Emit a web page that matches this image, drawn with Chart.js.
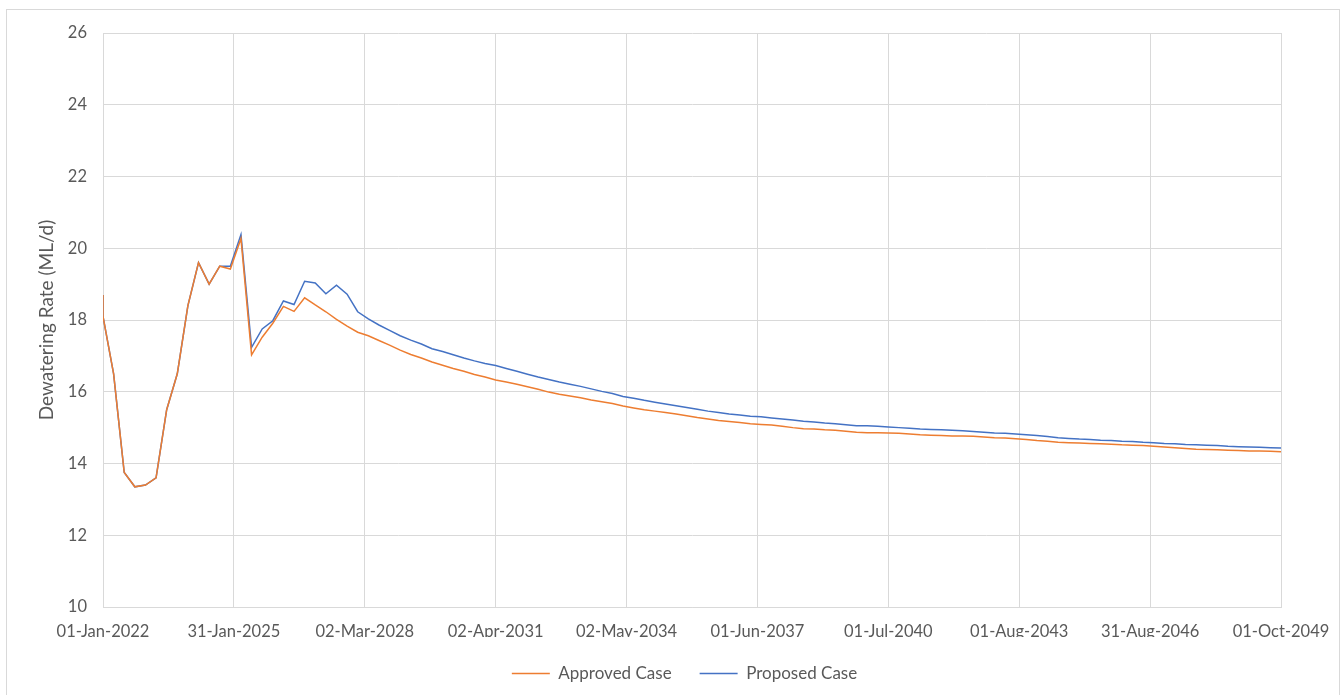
<!DOCTYPE html>
<html>
<head>
<meta charset="utf-8">
<title>Dewatering Rate</title>
<script src="https://cdn.jsdelivr.net/npm/chart.js@4.4.1/dist/chart.umd.min.js"></script>
<style>
    html, body { margin: 0; padding: 0; background: #fff; }
    #wrap { position: relative; width: 1343px; height: 695px; overflow: hidden; }
    #frame { position: absolute; left: 6px; top: 9px; width: 1332px; height: 700px; border: 1px solid #d9d9d9; pointer-events: none; }
    canvas { position: absolute; left: 0; top: 0; }
</style>
</head>
<body>
<div id="wrap">
    <div id="frame"></div>
    <canvas id="grafico" width="1343" height="695"></canvas>
</div>
<script>
// Etiquetas del eje X (cada 1126 dias aprox.)
const tickLabels = ['01-Jan-2022', '31-Jan-2025', '02-Mar-2028', '02-Apr-2031', '02-May-2034',
    '01-Jun-2037', '01-Jul-2040', '01-Aug-2043', '31-Aug-2046', '01-Oct-2049'];

// Numero de trimestres entre la primera y la ultima etiqueta
const totalQuarters = 111;

// Valores trimestrales (ML/d); los dos primeros valores caen en la misma fecha inicial
const approvedCase = [18.7, 18.1, 16.5, 13.75, 13.35, 13.4, 13.6, 15.5, 16.5, 18.4, 19.6, 19.0, 19.5,
    19.42, 20.27, 17.03, 17.52, 17.91, 18.38, 18.24, 18.62, 18.42, 18.23, 18.02, 17.83, 17.66, 17.56,
    17.43, 17.30, 17.16, 17.04, 16.94, 16.83, 16.74, 16.65, 16.57, 16.48, 16.41, 16.33, 16.27, 16.21,
    16.14, 16.07, 15.99, 15.93, 15.88, 15.83, 15.77, 15.72, 15.67, 15.60, 15.55, 15.50, 15.46, 15.42,
    15.38, 15.33, 15.28, 15.24, 15.20, 15.17, 15.14, 15.11, 15.09, 15.07, 15.04, 15.00, 14.97, 14.96,
    14.94, 14.93, 14.90, 14.87, 14.86, 14.86, 14.85, 14.84, 14.82, 14.80, 14.79, 14.78, 14.77, 14.77,
    14.76, 14.74, 14.72, 14.71, 14.69, 14.67, 14.64, 14.62, 14.59, 14.58, 14.57, 14.56, 14.55, 14.54,
    14.52, 14.51, 14.50, 14.48, 14.46, 14.44, 14.42, 14.40, 14.39, 14.38, 14.37, 14.36, 14.35, 14.35,
    14.34, 14.33];

const proposedCase = [18.7, 18.1, 16.5, 13.75, 13.35, 13.4, 13.6, 15.5, 16.5, 18.4, 19.6, 19.0, 19.5,
    19.5, 20.38, 17.24, 17.75, 17.98, 18.53, 18.43, 19.08, 19.03, 18.73, 18.97, 18.72, 18.23, 18.03,
    17.86, 17.71, 17.56, 17.44, 17.33, 17.20, 17.12, 17.03, 16.94, 16.86, 16.79, 16.73, 16.65, 16.57,
    16.49, 16.41, 16.34, 16.27, 16.21, 16.15, 16.08, 16.01, 15.95, 15.87, 15.82, 15.76, 15.71, 15.66,
    15.61, 15.56, 15.51, 15.46, 15.42, 15.38, 15.35, 15.32, 15.30, 15.27, 15.24, 15.21, 15.18, 15.16,
    15.13, 15.11, 15.08, 15.05, 15.05, 15.04, 15.02, 15.00, 14.98, 14.96, 14.95, 14.94, 14.93, 14.91,
    14.89, 14.87, 14.85, 14.84, 14.82, 14.80, 14.78, 14.75, 14.72, 14.70, 14.68, 14.67, 14.65, 14.64,
    14.62, 14.61, 14.59, 14.58, 14.56, 14.55, 14.53, 14.52, 14.51, 14.50, 14.48, 14.47, 14.46, 14.45,
    14.44, 14.43];

// Posicion en trimestres (el primer y segundo valor comparten la fecha inicial)
function toPoints(values) {
    return values.map((v, i) => ({ x: Math.max(i - 1, 0), y: v }));
}

const fuente = "Lato, 'Open Sans', sans-serif";
const gris = '#595959';

// Centrar la leyenda bajo el area del grafico
const moverLeyenda = {
    id: 'moverLeyenda',
    afterLayout(chart) {
        if (chart.legend) {
            chart.legend.left += 44;
            chart.legend.right += 44;
        }
    }
};

const ctx = document.getElementById('grafico').getContext('2d');
const chart = new Chart(ctx, {
    type: 'line',
    data: {
        datasets: [{
            label: 'Approved Case',
            data: toPoints(approvedCase),
            borderColor: '#ED7D31',
            backgroundColor: '#ED7D31',
            borderWidth: 1.5,
            pointRadius: 0,
            tension: 0
        }, {
            label: 'Proposed Case',
            data: toPoints(proposedCase),
            borderColor: '#4472C4',
            backgroundColor: '#4472C4',
            borderWidth: 1.5,
            pointRadius: 0,
            tension: 0
        }]
    },
    options: {
        responsive: false,
        animation: false,
        layout: {
            padding: { top: 33, right: 62, bottom: 3, left: 0 }
        },
        plugins: {
            legend: {
                position: 'bottom',
                labels: {
                    usePointStyle: true,
                    pointStyleWidth: 38,
                    pointStyle: 'line',
                    padding: 28,
                    color: gris,
                    font: { family: fuente, size: 17 }
                }
            },
            tooltip: { enabled: false }
        },
        scales: {
            x: {
                type: 'linear',
                min: 0,
                max: totalQuarters,
                afterFit: function(scale) {
                    scale.height = 30;
                    scale.paddingLeft = 0;
                    scale.paddingRight = 0;
                },
                afterBuildTicks: function(scale) {
                    scale.ticks = tickLabels.map((l, k) => ({ value: k * totalQuarters / (tickLabels.length - 1) }));
                },
                grid: {
                    color: '#d9d9d9',
                    drawTicks: false
                },
                border: { color: '#d9d9d9' },
                ticks: {
                    autoSkip: false,
                    maxRotation: 0,
                    padding: 15,
                    color: gris,
                    font: { family: fuente, size: 16.5 },
                    callback: function(value) {
                        const k = Math.round(value * (tickLabels.length - 1) / totalQuarters);
                        return tickLabels[k];
                    }
                }
            },
            y: {
                min: 10,
                max: 26,
                afterFit: function(scale) {
                    scale.width = 103;
                },
                grid: {
                    color: '#d9d9d9',
                    drawTicks: false
                },
                border: { color: '#d9d9d9' },
                ticks: {
                    stepSize: 2,
                    padding: 16,
                    color: gris,
                    font: { family: fuente, size: 16.5 }
                },
                title: {
                    display: true,
                    text: 'Dewatering Rate (ML/d)',
                    color: gris,
                    padding: { top: 35, bottom: 0 },
                    font: { family: fuente, size: 19 }
                }
            }
        }
    },
    plugins: [moverLeyenda]
});
</script>
</body>
</html>
